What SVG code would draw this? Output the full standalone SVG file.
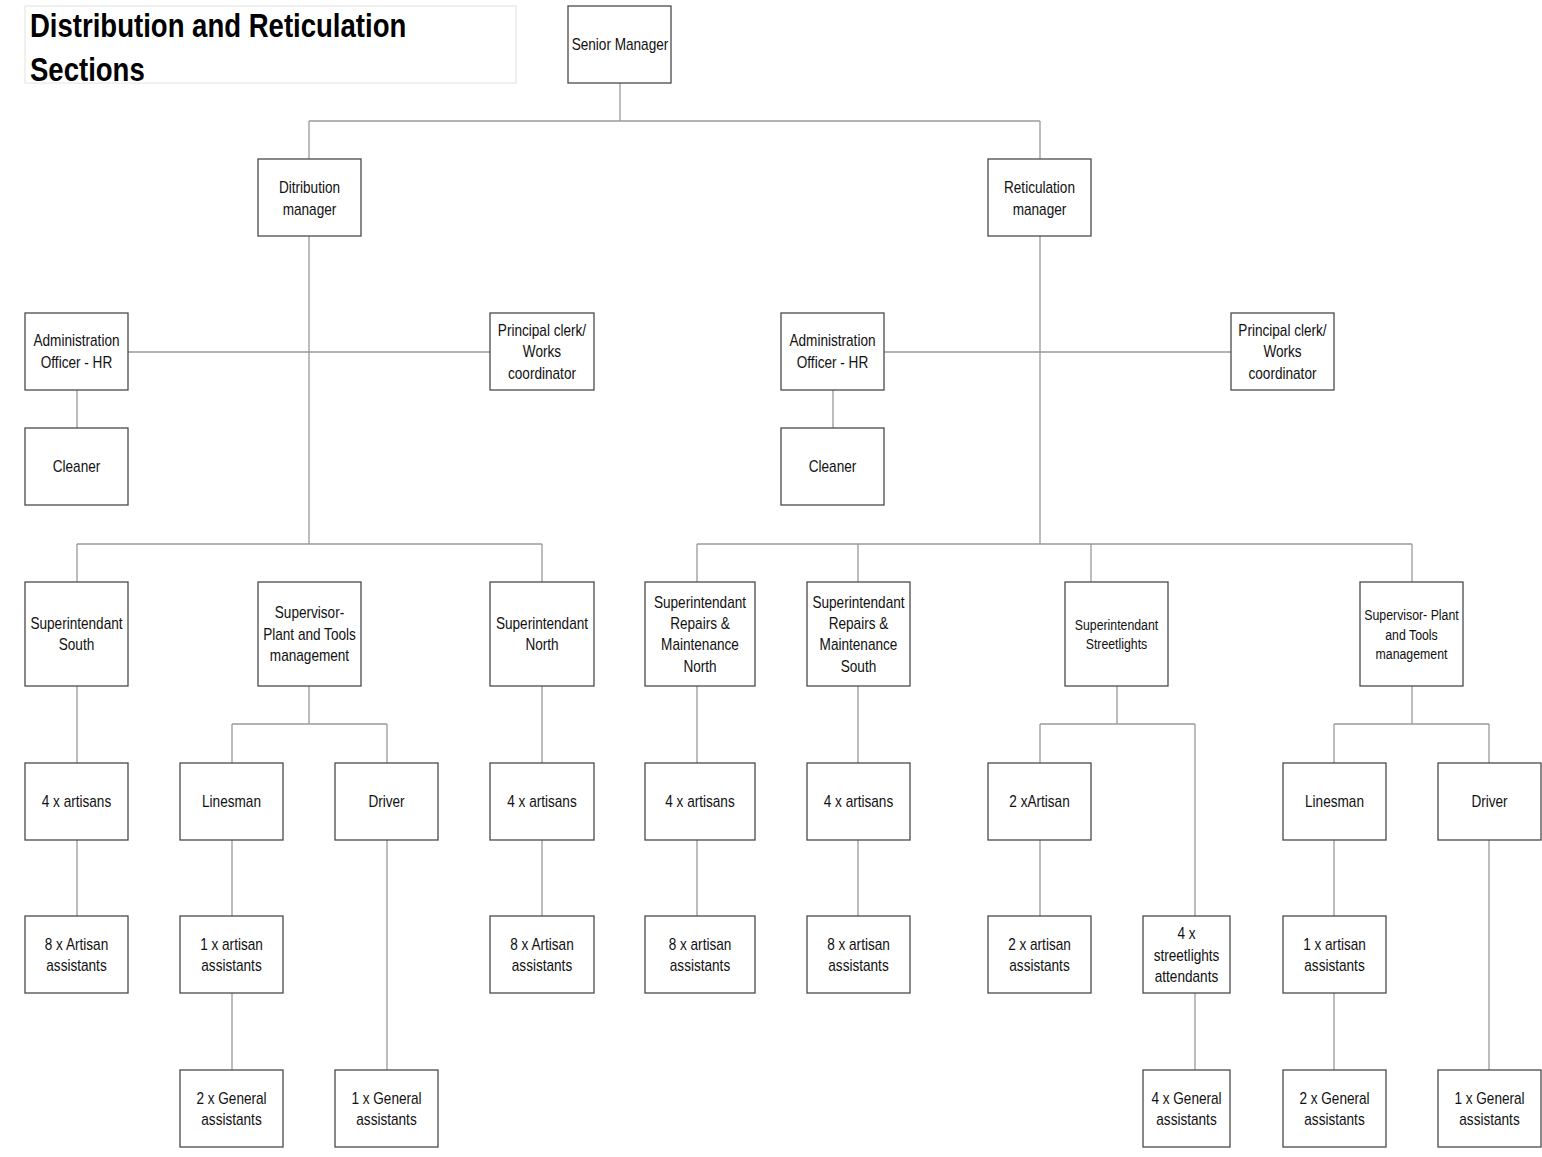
<svg xmlns="http://www.w3.org/2000/svg" width="1542" height="1157" viewBox="0 0 1542 1157">
  <style>
    .box { fill: #ffffff; stroke: #4a4a4a; stroke-width: 1.3; }
    .lbl { font-family: "Liberation Sans", Arial, sans-serif; font-size: 16px; fill: #111; text-anchor: middle; }
    .sm { font-size: 14.5px; }
    .title { font-family: "Liberation Sans", Arial, sans-serif; font-size: 33px; font-weight: bold; fill: #000; }
    .wire { fill: none; stroke: #9a9a9a; stroke-width: 1.3; }
  </style>
  <rect width="1542" height="1157" fill="#ffffff"/>

  <!-- heading (condensed horizontally about its left edge) -->
  <g id="title">
    <rect x="25" y="6" width="491" height="77" fill="#ffffff" stroke="#e2e2e2" stroke-width="1"/>
    <g transform="matrix(0.835 0 0 1 4.95 0)">
      <text class="title" x="30" y="37">Distribution and Reticulation</text>
      <text class="title" x="30" y="81">Sections</text>
    </g>
  </g>

  <!-- connectors -->
  <g id="connectors" class="wire">
    <path d="M620 83V121M309 121H1040M309 121V159M1040 121V159"/>
    <!-- distribution branch -->
    <path d="M309 236V544M128 352H490M77 390V428"/>
    <path d="M77 544H542M77 544V582M542 544V582"/>
    <path d="M77 686V763M77 840V916"/>
    <path d="M309 686V724M232 724H387M232 724V763M387 724V763M232 840V916M232 993V1070M387 840V1070"/>
    <path d="M542 686V763M542 840V916"/>
    <!-- reticulation branch -->
    <path d="M1040 236V544M884 352H1231M833 390V428"/>
    <path d="M697 544H1412M697 544V582M858 544V582M1091 544V582M1412 544V582"/>
    <path d="M697 686V763M697 840V916M858 686V763M858 840V916"/>
    <path d="M1117 686V724M1040 724H1195M1040 724V763M1195 724V916M1040 840V916M1195 993V1070"/>
    <path d="M1412 686V724M1334 724H1489M1334 724V763M1489 724V763M1334 840V916M1334 993V1070M1489 840V1070"/>
  </g>

  <!-- nodes: each label is squeezed to 85% width about its own centre line -->
  <g id="senior-manager"><rect class="box" x="568" y="6" width="103" height="77"/><text class="lbl" transform="matrix(0.85 0 0 1 93 0)" x="620" y="50.5">Senior Manager</text></g>

  <g id="distribution-manager"><rect class="box" x="258" y="159" width="103" height="77"/><text class="lbl" transform="matrix(0.85 0 0 1 46.425 0)"><tspan x="309.5" y="193.5">Ditribution</tspan><tspan x="309.5" y="215.5">manager</tspan></text></g>
  <g id="reticulation-manager"><rect class="box" x="988" y="159" width="103" height="77"/><text class="lbl" transform="matrix(0.85 0 0 1 155.925 0)"><tspan x="1039.5" y="193.5">Reticulation</tspan><tspan x="1039.5" y="215.5">manager</tspan></text></g>

  <g id="dist-admin"><rect class="box" x="25" y="313" width="103" height="77"/><text class="lbl" transform="matrix(0.85 0 0 1 11.475 0)"><tspan x="76.5" y="346.5">Administration</tspan><tspan x="76.5" y="368.5">Officer - HR</tspan></text></g>
  <g id="dist-clerk"><rect class="box" x="490" y="313" width="104" height="77"/><text class="lbl" transform="matrix(0.85 0 0 1 81.3 0)"><tspan x="542" y="336.5">Principal clerk/</tspan><tspan x="542" y="357.5">Works</tspan><tspan x="542" y="379.5">coordinator</tspan></text></g>
  <g id="dist-cleaner"><rect class="box" x="25" y="428" width="103" height="77"/><text class="lbl" transform="matrix(0.85 0 0 1 11.475 0)" x="76.5" y="472.5">Cleaner</text></g>

  <g id="ret-admin"><rect class="box" x="781" y="313" width="103" height="77"/><text class="lbl" transform="matrix(0.85 0 0 1 124.875 0)"><tspan x="832.5" y="346.5">Administration</tspan><tspan x="832.5" y="368.5">Officer - HR</tspan></text></g>
  <g id="ret-clerk"><rect class="box" x="1231" y="313" width="103" height="77"/><text class="lbl" transform="matrix(0.85 0 0 1 192.375 0)"><tspan x="1282.5" y="336.5">Principal clerk/</tspan><tspan x="1282.5" y="357.5">Works</tspan><tspan x="1282.5" y="379.5">coordinator</tspan></text></g>
  <g id="ret-cleaner"><rect class="box" x="781" y="428" width="103" height="77"/><text class="lbl" transform="matrix(0.85 0 0 1 124.875 0)" x="832.5" y="472.5">Cleaner</text></g>

  <!-- distribution field staff -->
  <g id="supt-south"><rect class="box" x="25" y="582" width="103" height="104"/><text class="lbl" transform="matrix(0.85 0 0 1 11.475 0)"><tspan x="76.5" y="629.5">Superintendant</tspan><tspan x="76.5" y="650.5">South</tspan></text></g>
  <g id="dist-plant-supervisor"><rect class="box" x="258" y="582" width="103" height="104"/><text class="lbl" transform="matrix(0.85 0 0 1 46.425 0)"><tspan x="309.5" y="618.5">Supervisor-</tspan><tspan x="309.5" y="640.5">Plant and Tools</tspan><tspan x="309.5" y="661.5">management</tspan></text></g>
  <g id="supt-north"><rect class="box" x="490" y="582" width="104" height="104"/><text class="lbl" transform="matrix(0.85 0 0 1 81.3 0)"><tspan x="542" y="629.5">Superintendant</tspan><tspan x="542" y="650.5">North</tspan></text></g>

  <g id="south-artisans"><rect class="box" x="25" y="763" width="103" height="77"/><text class="lbl" transform="matrix(0.85 0 0 1 11.475 0)" x="76.5" y="807.5">4 x artisans</text></g>
  <g id="south-assistants"><rect class="box" x="25" y="916" width="103" height="77"/><text class="lbl" transform="matrix(0.85 0 0 1 11.475 0)"><tspan x="76.5" y="950.5">8 x Artisan</tspan><tspan x="76.5" y="971.5">assistants</tspan></text></g>

  <g id="dist-linesman"><rect class="box" x="180" y="763" width="103" height="77"/><text class="lbl" transform="matrix(0.85 0 0 1 34.725 0)" x="231.5" y="807.5">Linesman</text></g>
  <g id="dist-driver"><rect class="box" x="335" y="763" width="103" height="77"/><text class="lbl" transform="matrix(0.85 0 0 1 57.975 0)" x="386.5" y="807.5">Driver</text></g>
  <g id="dist-linesman-assistant"><rect class="box" x="180" y="916" width="103" height="77"/><text class="lbl" transform="matrix(0.85 0 0 1 34.725 0)"><tspan x="231.5" y="950.5">1 x artisan</tspan><tspan x="231.5" y="971.5">assistants</tspan></text></g>
  <g id="dist-linesman-general"><rect class="box" x="180" y="1070" width="103" height="77"/><text class="lbl" transform="matrix(0.85 0 0 1 34.725 0)"><tspan x="231.5" y="1104.5">2 x General</tspan><tspan x="231.5" y="1125.5">assistants</tspan></text></g>
  <g id="dist-driver-general"><rect class="box" x="335" y="1070" width="103" height="77"/><text class="lbl" transform="matrix(0.85 0 0 1 57.975 0)"><tspan x="386.5" y="1104.5">1 x General</tspan><tspan x="386.5" y="1125.5">assistants</tspan></text></g>

  <g id="north-artisans"><rect class="box" x="490" y="763" width="104" height="77"/><text class="lbl" transform="matrix(0.85 0 0 1 81.3 0)" x="542" y="807.5">4 x artisans</text></g>
  <g id="north-assistants"><rect class="box" x="490" y="916" width="104" height="77"/><text class="lbl" transform="matrix(0.85 0 0 1 81.3 0)"><tspan x="542" y="950.5">8 x Artisan</tspan><tspan x="542" y="971.5">assistants</tspan></text></g>

  <!-- reticulation field staff -->
  <g id="rm-north"><rect class="box" x="645" y="582" width="110" height="104"/><text class="lbl" transform="matrix(0.85 0 0 1 105 0)"><tspan x="700" y="608.5">Superintendant</tspan><tspan x="700" y="629.5">Repairs &amp;</tspan><tspan x="700" y="650.5">Maintenance</tspan><tspan x="700" y="672.5">North</tspan></text></g>
  <g id="rm-south"><rect class="box" x="807" y="582" width="103" height="104"/><text class="lbl" transform="matrix(0.85 0 0 1 128.775 0)"><tspan x="858.5" y="608.5">Superintendant</tspan><tspan x="858.5" y="629.5">Repairs &amp;</tspan><tspan x="858.5" y="650.5">Maintenance</tspan><tspan x="858.5" y="672.5">South</tspan></text></g>
  <g id="supt-streetlights"><rect class="box" x="1065" y="582" width="103" height="104"/><text class="lbl sm" transform="matrix(0.85 0 0 1 167.475 0)"><tspan x="1116.5" y="630">Superintendant</tspan><tspan x="1116.5" y="649">Streetlights</tspan></text></g>
  <g id="ret-plant-supervisor"><rect class="box" x="1360" y="582" width="103" height="104"/><text class="lbl sm" transform="matrix(0.85 0 0 1 211.725 0)"><tspan x="1411.5" y="620">Supervisor- Plant</tspan><tspan x="1411.5" y="640">and Tools</tspan><tspan x="1411.5" y="659">management</tspan></text></g>

  <g id="rm-north-artisans"><rect class="box" x="645" y="763" width="110" height="77"/><text class="lbl" transform="matrix(0.85 0 0 1 105 0)" x="700" y="807.5">4 x artisans</text></g>
  <g id="rm-north-assistants"><rect class="box" x="645" y="916" width="110" height="77"/><text class="lbl" transform="matrix(0.85 0 0 1 105 0)"><tspan x="700" y="950.5">8 x artisan</tspan><tspan x="700" y="971.5">assistants</tspan></text></g>
  <g id="rm-south-artisans"><rect class="box" x="807" y="763" width="103" height="77"/><text class="lbl" transform="matrix(0.85 0 0 1 128.775 0)" x="858.5" y="807.5">4 x artisans</text></g>
  <g id="rm-south-assistants"><rect class="box" x="807" y="916" width="103" height="77"/><text class="lbl" transform="matrix(0.85 0 0 1 128.775 0)"><tspan x="858.5" y="950.5">8 x artisan</tspan><tspan x="858.5" y="971.5">assistants</tspan></text></g>

  <g id="sl-artisans"><rect class="box" x="988" y="763" width="103" height="77"/><text class="lbl" transform="matrix(0.85 0 0 1 155.925 0)" x="1039.5" y="807.5">2 xArtisan</text></g>
  <g id="sl-artisan-assistants"><rect class="box" x="988" y="916" width="103" height="77"/><text class="lbl" transform="matrix(0.85 0 0 1 155.925 0)"><tspan x="1039.5" y="950.5">2 x artisan</tspan><tspan x="1039.5" y="971.5">assistants</tspan></text></g>
  <g id="sl-attendants"><rect class="box" x="1143" y="916" width="87" height="77"/><text class="lbl" transform="matrix(0.85 0 0 1 177.975 0)"><tspan x="1186.5" y="939.5">4 x</tspan><tspan x="1186.5" y="961.5">streetlights</tspan><tspan x="1186.5" y="982.5">attendants</tspan></text></g>
  <g id="sl-general"><rect class="box" x="1143" y="1070" width="87" height="77"/><text class="lbl" transform="matrix(0.85 0 0 1 177.975 0)"><tspan x="1186.5" y="1104.5">4 x General</tspan><tspan x="1186.5" y="1125.5">assistants</tspan></text></g>

  <g id="ret-linesman"><rect class="box" x="1283" y="763" width="103" height="77"/><text class="lbl" transform="matrix(0.85 0 0 1 200.175 0)" x="1334.5" y="807.5">Linesman</text></g>
  <g id="ret-driver"><rect class="box" x="1438" y="763" width="103" height="77"/><text class="lbl" transform="matrix(0.85 0 0 1 223.425 0)" x="1489.5" y="807.5">Driver</text></g>
  <g id="ret-linesman-assistant"><rect class="box" x="1283" y="916" width="103" height="77"/><text class="lbl" transform="matrix(0.85 0 0 1 200.175 0)"><tspan x="1334.5" y="950.5">1 x artisan</tspan><tspan x="1334.5" y="971.5">assistants</tspan></text></g>
  <g id="ret-linesman-general"><rect class="box" x="1283" y="1070" width="103" height="77"/><text class="lbl" transform="matrix(0.85 0 0 1 200.175 0)"><tspan x="1334.5" y="1104.5">2 x General</tspan><tspan x="1334.5" y="1125.5">assistants</tspan></text></g>
  <g id="ret-driver-general"><rect class="box" x="1438" y="1070" width="103" height="77"/><text class="lbl" transform="matrix(0.85 0 0 1 223.425 0)"><tspan x="1489.5" y="1104.5">1 x General</tspan><tspan x="1489.5" y="1125.5">assistants</tspan></text></g>
</svg>
